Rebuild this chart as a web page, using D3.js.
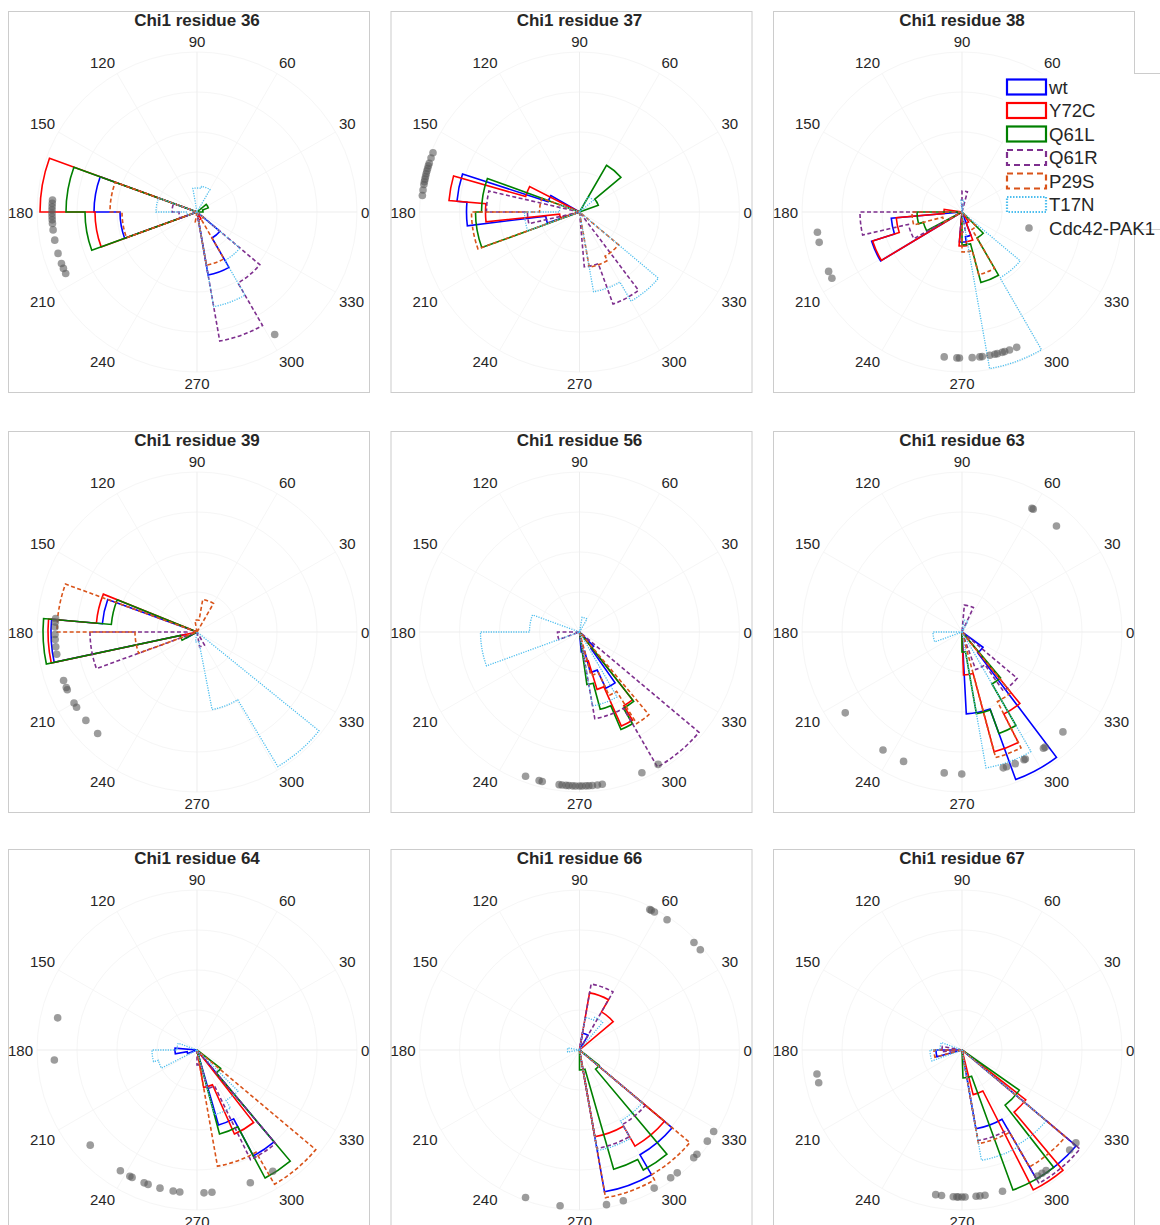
<!DOCTYPE html>
<html>
<head>
<meta charset="utf-8">
<script src="https://cdn.jsdelivr.net/npm/d3@7"></script>
<style>
  body { margin: 0; background: #fff; }
  svg { display: block; }
  text { font-family: "Liberation Sans", Arial, Helvetica, sans-serif; fill: #262626; }
</style>
</head>
<body>
<svg id="chart" width="1160" height="1225"></svg>
<script>
// ---- data -------------------------------------------------------------
const residues = [36, 37, 38, 39, 56, 63, 64, 66, 67];
const seriesNames = ["wt", "Y72C", "Q61L", "Q61R", "P29S", "T17N"];
const refName = "Cdc42-PAK1";
const thetaTicks = [0, 30, 60, 90, 120, 150, 180, 210, 240, 270, 300, 330];
const rGridTicks = [40, 80, 120, 160];
const rMax = 160;

// histogram bins per series: [startDeg, endDeg, count]
const bins36 = [
  [[160,180,103],[180,200,77],[280,300,64],[300,320,30]],
  [[160,180,157],[180,200,102],[280,300,8]],
  [[0,20,6],[20,40,12],[160,180,131],[180,200,112]],
  [[160,180,25],[180,200,18],[280,300,131],[300,320,82]],
  [[160,180,87],[180,200,75],[260,280,10],[280,300,54],[300,320,8]],
  [[60,80,26],[80,100,24],[160,180,41],[180,200,10],[280,300,96],[300,320,56]]
];
const bins37 = [
  [[150,162,33],[162,175,123],[175,187,113],[187,199,34]],
  [[153,164,56],[164,175,131],[175,186,94],[186,197,20]],
  [[20,40,20],[40,60,54],[160,180,98],[180,200,104]],
  [[167,180,93],[180,193,52],[275,290,55],[290,307,98]],
  [[160,180,40],[180,200,108],[280,300,56],[300,320,51]],
  [[40,60,18],[160,180,20],[180,200,55],[280,300,81],[300,320,103]]
];
const bins38 = [
  [[185,198,71],[198,211,95],[265,278,30],[278,291,25]],
  [[172,185,18],[185,198,66],[198,211,94],[265,278,34],[278,291,30],[291,304,12]],
  [[180,195,45],[195,208,40],[270,285,33],[285,300,73],[300,315,30]],
  [[75,90,21],[180,193,102],[193,209,55],[265,280,20]],
  [[180,195,50],[195,210,20],[270,285,40],[285,300,65],[300,315,20]],
  [[80,95,12],[280,300,159],[300,320,76]]
];
const bins39 = [
  [[160,175,95],[175,192,146],[192,209,12]],
  [[158,175,101],[175,192,149]],
  [[158,175,86],[175,192,154],[192,209,17]],
  [[160,180,10],[180,200,107],[280,300,15]],
  [[60,80,33],[80,100,12],[160,180,140],[180,200,62]],
  [[261,281,10],[281,301,79],[301,321,157]]
];
const bins56 = [
  [[275,285,20],[285,295,42],[295,305,62],[305,315,20]],
  [[280,287,30],[287,294,60],[294,301,103],[301,308,86]],
  [[278,285,53],[285,293,80],[293,300,106],[300,308,88]],
  [[180,200,22],[280,300,88],[300,320,156]],
  [[285,295,45],[295,302,70],[302,310,108]],
  [[60,80,15],[160,180,50],[180,200,99],[280,300,75]]
];
const bins63 = [
  [[273,290,82],[290,307,157],[307,324,26]],
  [[272,285,43],[285,297,124],[297,309,92]],
  [[270,280,20],[280,290,83],[290,300,108],[300,310,60]],
  [[65,85,27],[290,305,40],[305,320,72]],
  [[285,297,130],[297,309,78]],
  [[60,80,12],[180,200,29],[280,300,138]]
];
const bins64 = [
  [[175,190,22],[190,200,10],[286,298,78],[298,310,120]],
  [[280,294,38],[294,308,92]],
  [[285,298,87],[298,310,145],[310,322,30]],
  [[270,285,15],[285,296,40],[296,310,122]],
  [[280,300,118],[300,320,155]],
  [[160,180,20],[180,195,45],[195,207,40],[285,300,67],[300,315,58]]
];
const bins66 = [
  [[60,80,17],[280,300,144],[300,320,121]],
  [[40,60,44],[60,80,58],[280,300,88],[300,320,111]],
  [[270,286,20],[286,298,124],[298,310,136],[310,322,25]],
  [[60,80,67],[280,300,100],[300,320,86]],
  [[280,300,150],[300,320,144]],
  [[50,65,36],[65,80,33],[170,190,12],[280,300,102],[300,320,82]]
];
const bins67 = [
  [[180,195,26],[280,300,80],[300,320,149]],
  [[284,297,46],[297,310,157],[310,322,81]],
  [[272,290,28],[290,308,149],[308,325,70]],
  [[170,185,20],[280,300,92],[300,320,154]],
  [[180,195,28],[280,300,95],[300,320,135]],
  [[160,180,22],[180,200,32],[280,300,112],[300,320,110]]
];
const panelBins = [bins36, bins37, bins38, bins39, bins56, bins63, bins64, bins66, bins67];

// reference structure angles (deg) and the radius they are drawn at
const dots36 = [175.3,176.6,177.9,179.2,180.5,181.8,183.1,184.5,187.1,191.2,196.6,200.8,202.9,205.1,302.4];
const dots37 = [158,160,162,163,164,165,166,167,168,169,170,172,174];
const dots38 = [188,192,204,207,263,268,269,274,277,278,281,283,284,286,287,289,292];
const dots39 = [174.6,176,178,181,183,186,189,200,203,204,210,212,218.5,225.6];
const dots56 = [249.5,254.8,256,262.4,263.5,265,266,267.4,268.5,270,271,272.4,273.5,274.8,276.7,278.5,293.9,300.7];
const dots63 = [59.9,60.5,48.3,214.7,236.2,245.7,262.8,269.9,286.9,288.3,292,295.9,296.5,305,305.8,315.3];
const dots64 = [167,184,221.7,237.6,242,243,248.3,250,255,260.4,263.1,272.8,276,291.9,302];
const dots66 = [63.4,62.8,61.5,56.1,43.2,39.7,328.7,324.5,318.4,316.7,308.5,305.5,298.4,286.2,279.9,262.9,249.9];
const dots67 = [189.4,192.9,259.7,262,266.6,268,268.6,270,271.2,275.5,277,279,286,301,303,304.9,317.1,320.8];
const panelDots = [dots36, dots37, dots38, dots39, dots56, dots63, dots64, dots66, dots67];
const dotRadius = [145, 158, 146, 142, 154, 142, 143, 157, 147];

// ---- styling ----------------------------------------------------------
const seriesStyle = [
  { color: "#0000ff", dash: null, width: 1.6 },
  { color: "#ff0000", dash: null, width: 1.6 },
  { color: "#008000", dash: null, width: 1.6 },
  { color: "#7e2f8e", dash: "4,2.5", width: 1.6 },
  { color: "#d95319", dash: "4,2.5", width: 1.6 },
  { color: "#4dbeee", dash: "1.2,1.3", width: 1.3 }
];

// ---- layout -----------------------------------------------------------
const svg = d3.select("#chart");
const colLeft = [8, 390.5, 773];
const rowTop = [11, 431, 849];
const W = 361, H = 381, R = 160;

const rScale = d3.scaleLinear().domain([0, rMax]).range([0, R]);
const aScale = d3.scaleLinear().domain([0, 360]).range([0, 2 * Math.PI]);

function polar(deg, val) {
  const a = aScale(deg), rr = rScale(val);
  return [rr * Math.cos(a), -rr * Math.sin(a)];
}

// outline of a stairs-style polar histogram
function stairsPath(bins) {
  const sorted = bins.slice().sort((a, b) => a[0] - b[0]);
  const p = d3.path();
  let prevEnd = null;
  sorted.forEach(b => {
    if (prevEnd === null || Math.abs(prevEnd - b[0]) > 0.01) {
      if (prevEnd !== null) p.lineTo(0, 0);
      p.moveTo(0, 0);
    }
    p.arc(0, 0, rScale(b[2]), -aScale(b[0]), -aScale(b[1]), true);
    prevEnd = b[1];
  });
  p.lineTo(0, 0);
  return p.toString();
}

residues.forEach((res, i) => {
  const left = colLeft[i % 3], top = rowTop[Math.floor(i / 3)];
  const cx = left + 189, cy = top + 201;
  const g = svg.append("g");

  g.append("rect")
    .attr("x", left + 0.5).attr("y", top + 0.5)
    .attr("width", W).attr("height", H)
    .attr("fill", "#fff").attr("stroke", "#cccccc").attr("stroke-width", 1);

  const pg = g.append("g").attr("transform", `translate(${cx},${cy})`);

  // very faint polar grid
  rGridTicks.forEach(v => {
    pg.append("circle").attr("r", rScale(v))
      .attr("fill", "none").attr("stroke", "#f6f6f6").attr("stroke-width", 1);
  });
  thetaTicks.forEach(t => {
    const [x, y] = polar(t, rMax);
    pg.append("line").attr("x1", 0).attr("y1", 0).attr("x2", x).attr("y2", y)
      .attr("stroke", (t % 90 === 0) ? "#ededed" : "#f6f6f6").attr("stroke-width", 1);
  });

  // angle labels, aligned away from the circle
  thetaTicks.forEach(t => {
    const a = aScale(t);
    const c = Math.cos(a), s = Math.sin(a);
    const ax = 164 * c, ay = -164 * s;
    pg.append("text").text(t)
      .attr("font-size", 15)
      .attr("x", ax)
      .attr("y", ay + (s > 0.01 ? -7 : (s < -0.01 ? 7 : 0)))
      .attr("text-anchor", c > 0.01 ? "start" : (c < -0.01 ? "end" : "middle"))
      .attr("dominant-baseline", "central");
  });

  // histogram outlines
  panelBins[i].forEach((bins, s) => {
    const st = seriesStyle[s];
    pg.append("path")
      .attr("d", stairsPath(bins))
      .attr("fill", "none")
      .attr("stroke", st.color)
      .attr("stroke-width", st.width)
      .attr("stroke-dasharray", st.dash)
      .attr("stroke-linejoin", "miter");
  });

  // reference structure points
  pg.selectAll("circle.ref").data(panelDots[i]).join("circle")
    .attr("class", "ref")
    .attr("cx", d => polar(d, dotRadius[i])[0])
    .attr("cy", d => polar(d, dotRadius[i])[1])
    .attr("r", 3.8)
    .attr("fill", "#5a5a5a")
    .attr("fill-opacity", 0.6);

  g.append("text")
    .attr("x", cx).attr("y", top + 9.5)
    .attr("text-anchor", "middle")
    .attr("dominant-baseline", "central")
    .attr("font-size", 17).attr("font-weight", "bold")
    .attr("fill", "#000")
    .text("Chi1 residue " + res);
});

// ---- legend -----------------------------------------------------------
const lg = svg.append("g");
lg.append("rect").attr("x", 1003).attr("y", 73.5).attr("width", 160).attr("height", 156)
  .attr("fill", "#fff");
lg.append("line").attr("x1", 1134).attr("x2", 1160).attr("y1", 73.5).attr("y2", 73.5)
  .attr("stroke", "#cccccc");
lg.append("line").attr("x1", 1134).attr("x2", 1160).attr("y1", 229.5).attr("y2", 229.5)
  .attr("stroke", "#cccccc");

seriesNames.forEach((name, k) => {
  const st = seriesStyle[k];
  const yc = 87 + k * 23.5;
  lg.append("rect")
    .attr("x", 1007).attr("y", yc - 7.5)
    .attr("width", 39).attr("height", 15)
    .attr("fill", "none")
    .attr("stroke", st.color)
    .attr("stroke-width", 2.2)
    .attr("stroke-dasharray", k === 5 ? "1.5,1.5" : (st.dash ? "6,4" : null));
  lg.append("text").attr("x", 1049).attr("y", yc)
    .attr("dominant-baseline", "central")
    .attr("font-size", 18.6).text(name);
});
const yRef = 87 + 6 * 23.5;
lg.append("circle").attr("cx", 1029).attr("cy", yRef).attr("r", 3.8)
  .attr("fill", "#5a5a5a").attr("fill-opacity", 0.6);
lg.append("text").attr("x", 1049).attr("y", yRef)
  .attr("dominant-baseline", "central")
  .attr("font-size", 18.6).text(refName);
</script>
</body>
</html>
